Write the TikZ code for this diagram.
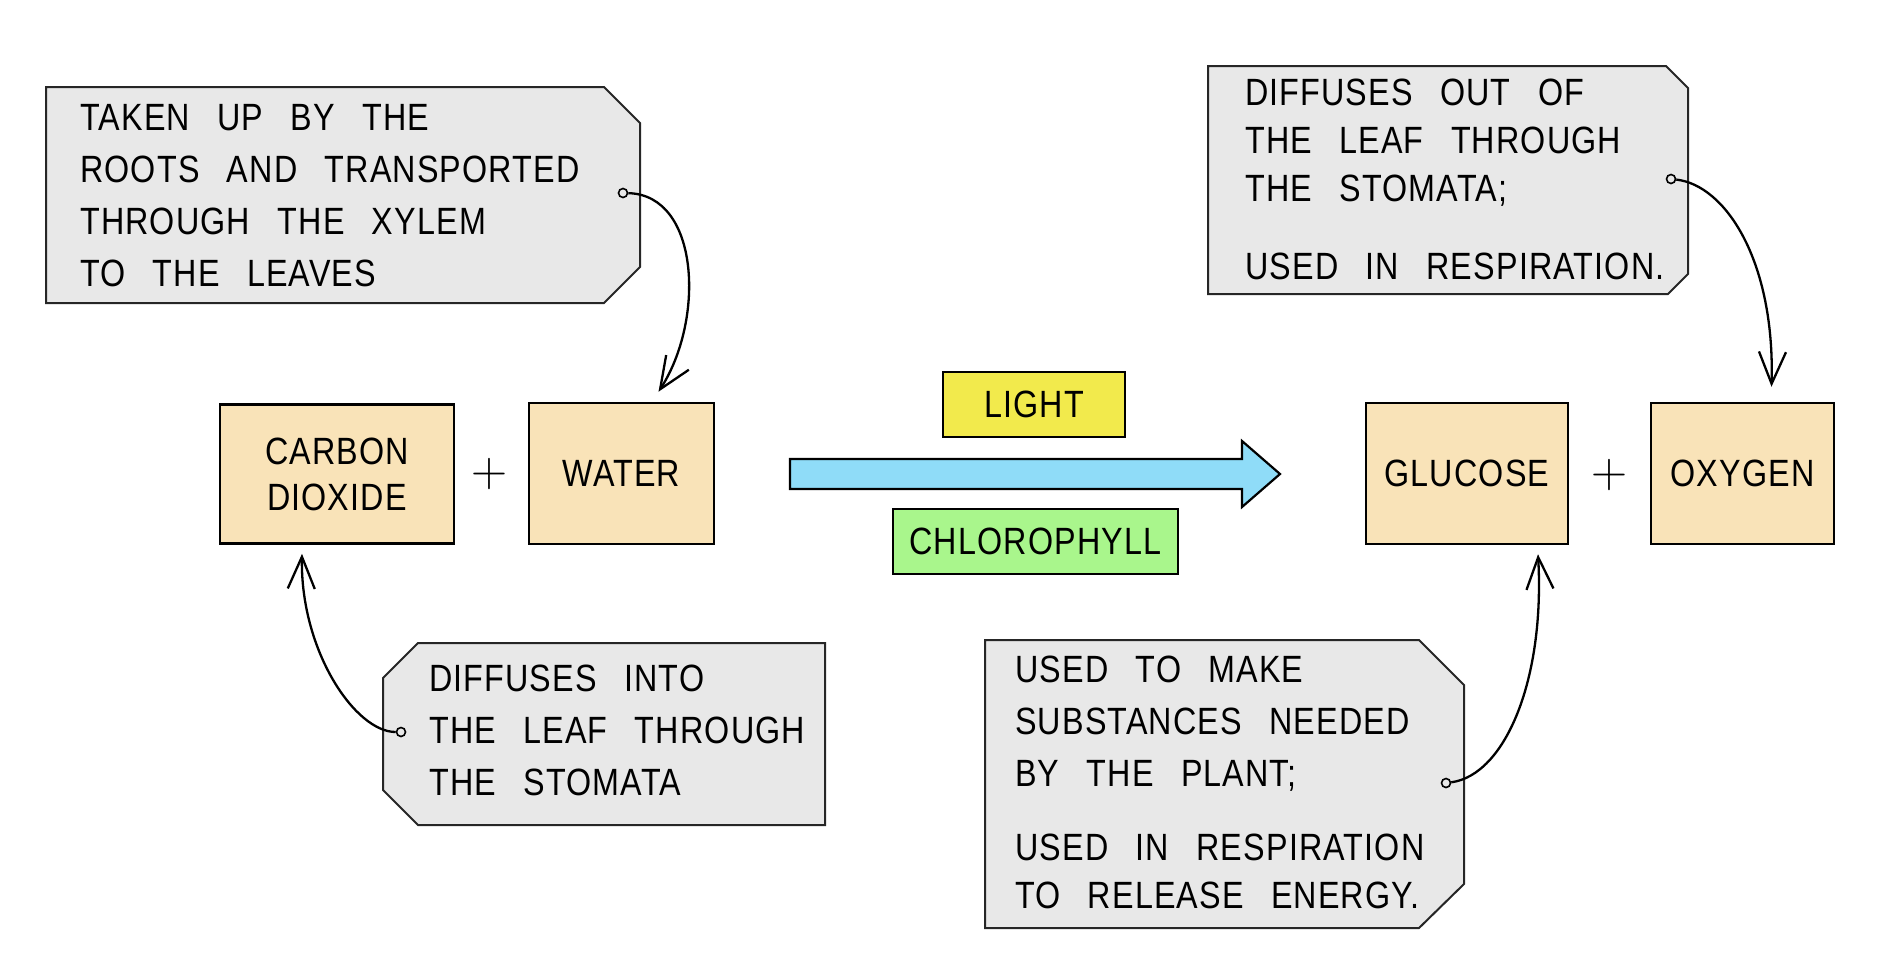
\documentclass[tikz,border=0pt]{standalone}
\usepackage{fontspec}
\newfontfamily\hand{Liberation Sans}[FakeStretch=0.85, LetterSpace=3]
\newcommand\handtxt{\hand\fontsize{38}{52}\selectfont\spaceskip 0.72em\relax}
\newcommand\handbox{\hand\fontsize{38}{46}\selectfont}
\newcommand\handplus{\rmfamily\fontsize{50}{50}\selectfont}
\usetikzlibrary{arrows.meta,calc}
\definecolor{boxc}{HTML}{F9E3B8}
\definecolor{tagc}{HTML}{E8E8E8}
\definecolor{bluec}{HTML}{8FDCF8}
\definecolor{yellowc}{HTML}{F2EA4C}
\definecolor{greenc}{HTML}{A9F68C}
\begin{document}
\begin{tikzpicture}[x=1pt,y=-1pt,
  prod/.style={draw=black, line width=2.5pt, fill=boxc, align=center, inner sep=0pt, font=\handbox},
  tagbox/.style={draw=black, line width=2.2pt, align=center, inner sep=0pt, minimum height=65pt, font=\handbox},
  callout/.style={draw=black!85, line width=2pt, fill=tagc},
  calltext/.style={font=\handtxt, align=left, inner sep=0pt, anchor=north west},
  dotc/.style={circle, draw=black, line width=1.6pt, fill=tagc, inner sep=0pt, minimum size=9pt},
  conn/.style={draw=black, line width=2.3pt, -{Straight Barb[length=32pt,width=27pt,line width=2.3pt]}},
  plus/.style={font=\handplus, inner sep=0pt}
]
\useasboundingbox (0,0) rectangle (1894,962);

% callout shapes
\draw[callout] (46,87) -- (604,87) -- (640,123) -- (640,267) -- (604,303) -- (46,303) -- cycle;
\draw[callout] (1208,66) -- (1666,66) -- (1688,88) -- (1688,274) -- (1668,294) -- (1208,294) -- cycle;
\draw[callout] (418,643) -- (825,643) -- (825,825) -- (418,825) -- (383,790) -- (383,678) -- cycle;
\draw[callout] (985,640) -- (1419,640) -- (1464,685) -- (1464,884) -- (1419,928) -- (985,928) -- cycle;

% callout texts
\node[calltext] (t1) at (80,104) {TAKEN UP BY THE\\ROOTS AND TRANSPORTED\\THROUGH THE XYLEM\\TO THE LEAVES};
\node[calltext] (t2) at (1245,79) {DIFFUSES OUT OF\\[-4pt]THE LEAF THROUGH\\[-4pt]THE STOMATA;\\[26pt]USED IN RESPIRATION.};
\node[calltext] (t3) at (429,665) {DIFFUSES INTO\\THE LEAF THROUGH\\THE STOMATA};
\node[calltext] (t4) at (1015,656) {USED TO MAKE\\SUBSTANCES NEEDED\\BY THE PLANT;\\[22pt]USED IN RESPIRATION\\[-4pt]TO RELEASE ENERGY.};

% dots
\node[dotc] (d1) at (623,193) {};
\node[dotc] (d2) at (1671,179) {};
\node[dotc] (d3) at (401,732) {};
\node[dotc] (d4) at (1446,783) {};

% product / reactant boxes
\node[prod, minimum width=234pt, minimum height=139pt] (co2) at (337,474) {CARBON\\DIOXIDE};
\node[prod, minimum width=185pt, minimum height=141pt] (water) at (621.5,473.5) {WATER};
\node[prod, minimum width=202pt, minimum height=141pt] (glu) at (1467,473.5) {GLUCOSE};
\node[prod, minimum width=183pt, minimum height=141pt] (oxy) at (1742.5,473.5) {OXYGEN};

\node[plus] (p1) at (489,474) {+};
\node[plus] (p2) at (1609,475) {+};

% big arrow
\draw[draw=black, line width=2.2pt, fill=bluec, line join=miter]
  (790,459) -- (1242,459) -- (1242,441) -- (1280,474) -- (1242,507) -- (1242,489) -- (790,489) -- cycle;

\node[tagbox, fill=yellowc, minimum width=182pt] (light) at (1034,404.5) {LIGHT};
\node[tagbox, fill=greenc, minimum width=285pt] (chl) at (1035.5,541.5) {CHLOROPHYLL};

% connectors
\draw[conn] (d1) .. controls (700,195) and (705,320) .. ($(water.north)+(37,-10)$);
\draw[conn] (d2) .. controls (1725,185) and (1775,260) .. ($(oxy.north)+(29,-15)$);
\draw[conn] (d3) .. controls (355,732) and (300,650) .. ($(co2.south)+(-35,9)$);
\draw[conn] (d4) .. controls (1505,775) and (1545,680) .. ($(glu.south)+(71,9)$);
\end{tikzpicture}
\end{document}
